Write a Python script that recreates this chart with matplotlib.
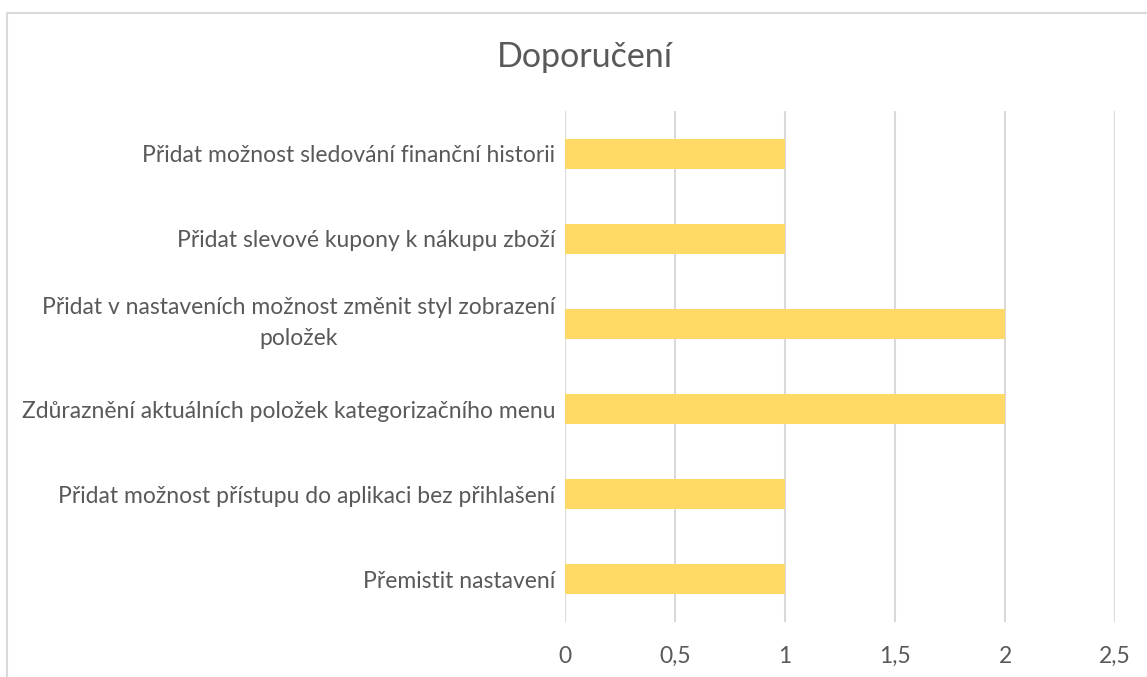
import numpy as np
import matplotlib.pyplot as plt
import matplotlib.transforms as mtransforms
from matplotlib.lines import Line2D

# recommendations, listed top to bottom
categories = [
    "Přidat možnost sledování finanční historii",
    "Přidat slevové kupony k nákupu zboží",
    "Přidat v nastaveních možnost změnit styl zobrazení\npoložek",
    "Zdůraznění aktuálních položek kategorizačního menu",
    "Přidat možnost přístupu do aplikaci bez přihlašení",
    "Přemistit nastavení",
]
counts = [1, 1, 2, 2, 1, 1]
xticks = [0, 0.5, 1, 1.5, 2, 2.5]
xtick_labels = ["0", "0,5", "1", "1,5", "2", "2,5"]

text_col = "#595959"
grid_col = "#D9D9D9"
bar_col = "#FFD966"

plt.rcParams['font.family'] = ['Lato', 'DejaVu Sans']

fig = plt.figure(figsize=(11.47, 6.77), dpi=100)
ax = fig.add_axes([565 / 1147, 55 / 677, 550 / 1147, 511 / 677])

y = np.arange(len(categories))[::-1]
ax.barh(y, counts, height=0.352, color=bar_col, zorder=2)

ax.set_xlim(0, 2.5)
ax.set_ylim(-0.5, len(categories) - 0.5)
ax.set_xticks(xticks)
ax.set_xticklabels(xtick_labels)
ax.set_yticks(y)
ax.set_yticklabels(categories, multialignment='center', linespacing=1.6)

ax.grid(axis='x', color=grid_col, linewidth=1.5, zorder=0)
ax.tick_params(axis='both', length=0, colors=text_col, labelsize=16.5)
ax.tick_params(axis='x', pad=17)
ax.tick_params(axis='y', pad=7)
for s in ax.spines.values():
    s.set_visible(False)

# two-line labels sit a little low; nudge them up
nudge = mtransforms.ScaledTranslation(0, 8 / 100, fig.dpi_scale_trans)
for lbl in ax.get_yticklabels():
    if "\n" in lbl.get_text():
        lbl.set_transform(lbl.get_transform() + nudge)

fig.text(585 / 1147, 1 - 57 / 677, "Doporučení", ha='center', va='center',
         fontsize=24.5, color=text_col)

# chart frame, cut off at the right and bottom edges
fig.add_artist(Line2D([7.5 / 1147, 1.0], [1 - 12.5 / 677] * 2,
                      transform=fig.transFigure, color=grid_col, lw=1.5))
fig.add_artist(Line2D([7.5 / 1147] * 2, [0.0, 1 - 12.5 / 677],
                      transform=fig.transFigure, color=grid_col, lw=1.5))

fig.savefig("out.png", dpi=100)
